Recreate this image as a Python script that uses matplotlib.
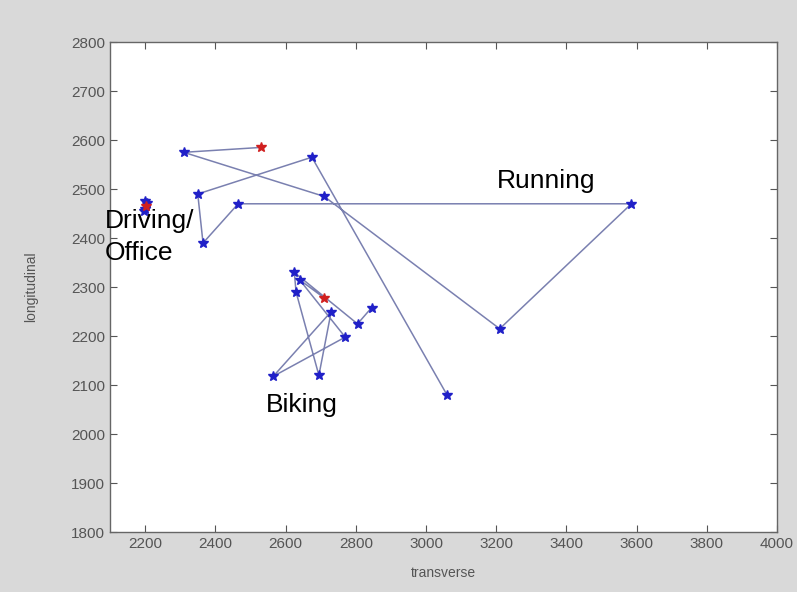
import matplotlib
matplotlib.use("Agg")
import matplotlib.pyplot as plt

# Running trajectory (start = red)
run_x = [2530, 2310, 2710, 3210, 3585, 2465, 2365, 2350, 2675, 3060]
run_y = [2585, 2575, 2485, 2215, 2470, 2470, 2390, 2490, 2565, 2080]

# Biking trajectory (start = red)
bike_x = [2710, 2640, 2770, 2565, 2730, 2695, 2630, 2625, 2805, 2845]
bike_y = [2278, 2315, 2198, 2118, 2250, 2120, 2290, 2330, 2225, 2258]

# Driving / Office cluster (start = red)
drive_x = [2203, 2196, 2205, 2199, 2201]
drive_y = [2466, 2456, 2472, 2476, 2460]

xticks = [2200, 2400, 2600, 2800, 3000, 3200, 3400, 3600, 3800, 4000]
yticks = [1800, 1900, 2000, 2100, 2200, 2300, 2400, 2500, 2600, 2700, 2800]

fig = plt.figure(figsize=(7.97, 5.92), dpi=100, facecolor="#d9d9d9")
ax = fig.add_axes([0.138, 0.101, 0.837, 0.828])
ax.set_facecolor("white")

line_col = "#7a80b0"
for xs, ys in [(run_x, run_y), (bike_x, bike_y), (drive_x, drive_y)]:
    ax.plot(xs, ys, color=line_col, lw=1.1, zorder=2)
    ax.plot(xs[1:], ys[1:], linestyle="none", marker="*", ms=7,
            color="#2020c8", mec="#2020c8", zorder=3)
    ax.plot(xs[:1], ys[:1], linestyle="none", marker="*", ms=7,
            color="#d02020", mec="#d02020", zorder=4)

ax.set_xlim(2100, 4000)
ax.set_ylim(1800, 2800)
ax.set_xticks(xticks)
ax.set_yticks(yticks)
tick_font = ["Liberation Sans Narrow", "Liberation Sans", "DejaVu Sans"]
ax.tick_params(direction="in", top=True, right=True, length=5,
               colors="#555555", labelsize=11, width=0.8)
for lab in ax.get_xticklabels() + ax.get_yticklabels():
    lab.set_family(tick_font)
for s in ax.spines.values():
    s.set_color("#666666")
    s.set_linewidth(1.0)

ax.set_xlabel("transverse", fontsize=10, color="#555555", family=tick_font, labelpad=11)
ax.set_ylabel("longitudinal", fontsize=10, color="#555555", family=tick_font, labelpad=24)

txt_font = ["Liberation Sans", "DejaVu Sans"]
ax.text(3342, 2516, "Running", fontsize=19, family=txt_font, ha="center", va="center")
ax.text(2646, 2059, "Biking", fontsize=19, family=txt_font, ha="center", va="center")
ax.text(2086, 2402, "Driving/\nOffice", fontsize=19, family=txt_font, ha="left",
        va="center", linespacing=1.4, clip_on=False, zorder=5)

fig.savefig("out.png", dpi=100, facecolor=fig.get_facecolor())
